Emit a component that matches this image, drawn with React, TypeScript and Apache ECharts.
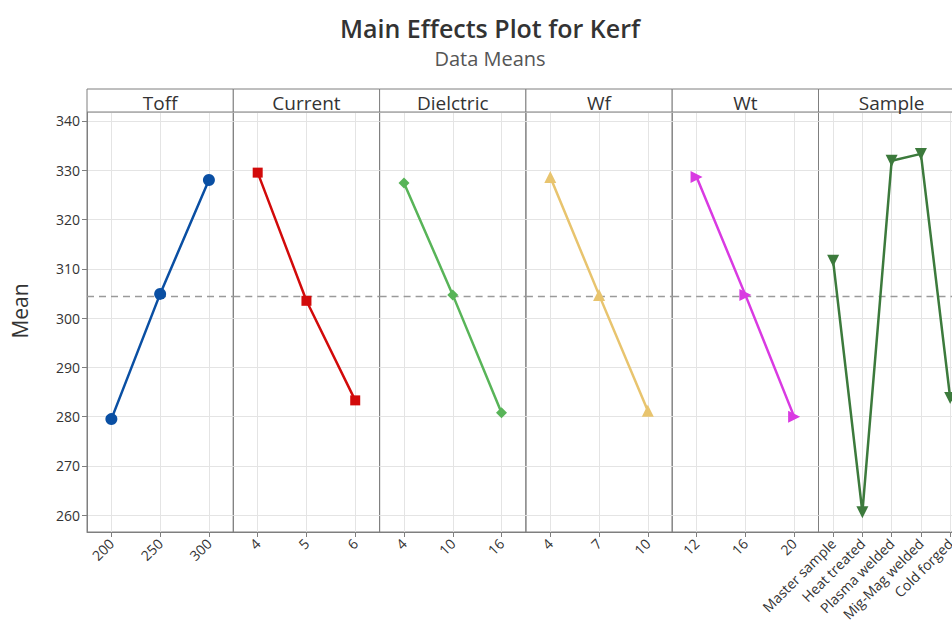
import React, { useEffect, useRef } from 'react';
import * as echarts from 'echarts';

const titleText = 'Main Effects Plot for Kerf';
const subtitleText = 'Data Means';
const yAxisName = 'Mean';
const grandMean = 304.4;
const yMin = 256.6;
const yMax = 341.8;

const factorNames = ['Toff', 'Current', 'Dielctric', 'Wf', 'Wt', 'Sample'];

const toffLevels = ['200', '250', '300'];
const toffMeans = [279.5, 304.9, 328.0];
const currentLevels = ['4', '5', '6'];
const currentMeans = [329.5, 303.5, 283.3];
const dielectricLevels = ['4', '10', '16'];
const dielectricMeans = [327.4, 304.7, 280.8];
const wfLevels = ['4', '7', '10'];
const wfMeans = [328.6, 304.7, 281.2];
const wtLevels = ['12', '16', '20'];
const wtMeans = [328.6, 304.7, 280.0];
const sampleLevels = ['Master sample', 'Heat treated', 'Plasma welded', 'Mig-Mag welded', 'Cold forged'];
const sampleMeans = [311.6, 260.6, 331.9, 333.3, 283.8];

const levelsList = [toffLevels, currentLevels, dielectricLevels, wfLevels, wtLevels, sampleLevels];
const meansList = [toffMeans, currentMeans, dielectricMeans, wfMeans, wtMeans, sampleMeans];

const colors = ['#0a4fa3', '#d20a0a', '#58b458', '#e8c46e', '#d93ae2', '#3c7a3c'];
const symbols = [
  'circle',
  'rect',
  'diamond',
  'triangle',
  'path://M0,0L10,5L0,10Z',
  'path://M0,0L10,0L5,9Z',
];
const symbolSizes = [12, 10, 11, 12, 12, 12];

const FONT = '"Open Sans", "Noto Sans", sans-serif';
const PANEL_LEFT = 87;
const PANEL_W = 146.3;
const PLOT_TOP = 112;
const PLOT_H = 420;
const HEADER_TOP = 89;
const BORDER = '#7f7f7f';
const GRIDC = '#e4e4e4';
const CHART_W = 975;

export default function App() {
  const ref = useRef<HTMLDivElement>(null);
  useEffect(() => {
    document.body.style.margin = '0';
    if (!ref.current) return;
    const chart = echarts.init(ref.current, undefined, { renderer: 'svg' });

    const grids: any[] = [];
    const xAxes: any[] = [];
    const yAxes: any[] = [];
    const series: any[] = [];
    const graphics: any[] = [];

    factorNames.forEach((name, i) => {
      const left = PANEL_LEFT + i * PANEL_W;
      grids.push({
        left,
        top: PLOT_TOP,
        width: PANEL_W,
        height: PLOT_H,
        show: true,
        borderColor: BORDER,
        borderWidth: 1,
        backgroundColor: 'transparent',
        containLabel: false,
      });
      xAxes.push({
        type: 'category',
        gridIndex: i,
        data: levelsList[i],
        boundaryGap: true,
        axisLine: { show: true, lineStyle: { color: BORDER, width: 1 } },
        axisTick: { show: true, alignWithLabel: true, length: 5, lineStyle: { color: BORDER } },
        axisLabel: {
          rotate: 45,
          margin: 9,
          fontSize: 14,
          color: '#333',
          fontFamily: FONT,
          interval: 0,
        },
        splitLine: { show: false },
      });
      yAxes.push({
        type: 'value',
        gridIndex: i,
        min: yMin,
        max: yMax,
        splitNumber: 8,
        axisLine: { show: i === 0, lineStyle: { color: BORDER } },
        axisTick: { show: i === 0, length: 5, lineStyle: { color: BORDER } },
        axisLabel: {
          show: i === 0,
          fontSize: 14,
          color: '#333',
          fontFamily: FONT,
          margin: 7,
          showMinLabel: false,
          showMaxLabel: false,
        },
        splitLine: { show: true, lineStyle: { color: GRIDC, width: 1 } },
      });
      series.push({
        type: 'line',
        xAxisIndex: i,
        yAxisIndex: i,
        data: [],
        z: 1,
        silent: true,
        markLine: {
          silent: true,
          z: 1,
          symbol: ['none', 'none'],
          label: { show: false },
          animation: false,
          data: [
            ...levelsList[i].map((l) => ({ xAxis: l, lineStyle: { color: GRIDC, width: 1, type: 'solid' } })),
            { yAxis: grandMean, lineStyle: { color: '#9a9a9a', width: 1.3, type: [7, 5] } },
          ],
        },
      });
      series.push({
        type: 'line',
        name,
        xAxisIndex: i,
        yAxisIndex: i,
        data: meansList[i],
        z: 3,
        symbol: symbols[i],
        symbolSize: symbolSizes[i],
        showAllSymbol: true,
        lineStyle: { color: colors[i], width: 2.5 },
        itemStyle: { color: colors[i] },
      });
      graphics.push({
        type: 'rect',
        shape: { x: left, y: HEADER_TOP, width: PANEL_W, height: PLOT_TOP - HEADER_TOP },
        style: { fill: '#fff', stroke: BORDER, lineWidth: 1 },
        z: 10,
      });
      graphics.push({
        type: 'text',
        x: left + PANEL_W / 2,
        y: PLOT_TOP - 9,
        style: {
          text: name,
          fontSize: 19,
          fontFamily: FONT,
          fill: '#333',
          align: 'center',
          verticalAlign: 'middle',
        },
        z: 11,
      });
    });

    graphics.push({
      type: 'text',
      x: 20,
      y: 311,
      rotation: Math.PI / 2,
      style: {
        text: yAxisName,
        fontSize: 21,
        fontFamily: FONT,
        fill: '#333',
        align: 'center',
        verticalAlign: 'middle',
      },
    });

    chart.setOption({
      animation: false,
      backgroundColor: '#fff',
      title: {
        text: titleText,
        subtext: subtitleText,
        left: 485,
        top: 10,
        textAlign: 'center',
        itemGap: 8,
        textStyle: { fontSize: 25, fontWeight: 600, color: '#333', fontFamily: FONT },
        subtextStyle: { fontSize: 20, color: '#555', fontFamily: FONT },
      },
      grid: grids,
      xAxis: xAxes,
      yAxis: yAxes,
      series,
      graphic: graphics,
    });

    return () => chart.dispose();
  }, []);
  return (
    <div style={{ width: 952, height: 644, overflow: 'hidden' }}>
      <div ref={ref} style={{ width: CHART_W, height: 644 }} />
    </div>
  );
}
